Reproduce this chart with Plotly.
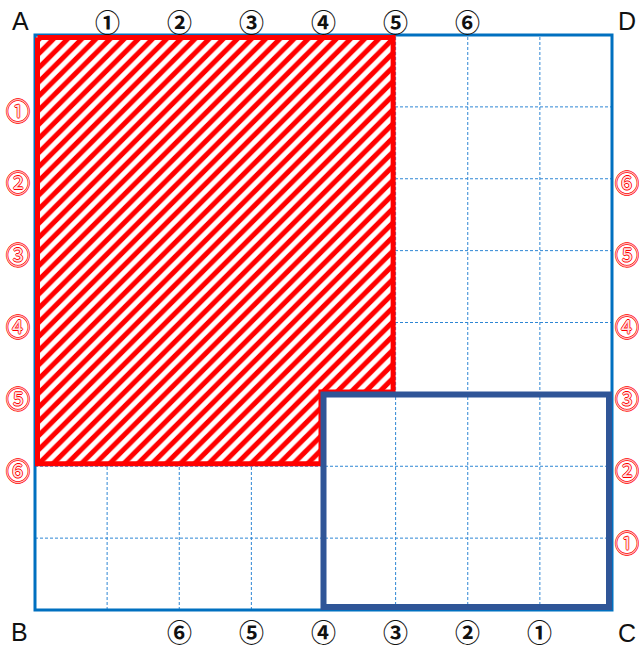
import plotly.graph_objects as go

# ---------------- data ----------------
grid_n = 8
grid_lines = [1, 2, 3, 4, 5, 6, 7]

top_labels = ["①", "②", "③", "④", "⑤", "⑥"]
top_label_x = [1, 2, 3, 4, 5, 6]
bottom_labels = ["⑥", "⑤", "④", "③", "②", "①"]
bottom_label_x = [2, 3, 4, 5, 6, 7]
left_labels = ["①", "②", "③", "④", "⑤", "⑥"]
left_label_y = [7, 6, 5, 4, 3, 2]
right_labels = ["⑥", "⑤", "④", "③", "②", "①"]
right_label_y = [6, 5, 4, 3, 2, 1]
corner_labels = ["A", "D", "B", "C"]
corner_x = [0, 8, 0, 8]
corner_y = [8, 8, 0, 0]

red_rect_x = [0, 5]
red_rect_y = [2, 8]
blue_rect_x = [4, 8]
blue_rect_y = [0, 3]

# ---------------- layout geometry ----------------
W, H = 639, 648
PL, PR, PT, PB = 35, 27, 35, 38   # frame position in pixels
PAD = 10
ux = (W - PL - PR) / grid_n
uy = (H - PT - PB) / grid_n

FRAME = "#0070C0"
GRID = "#2E86D4"
RED = "#FF0000"
NAVY = "#2F5597"

fig = go.Figure()

shapes = []
# dashed grid
for g in grid_lines:
    shapes.append(dict(type="line", x0=g, x1=g, y0=0, y1=grid_n, xref="x", yref="y",
                       line=dict(color=GRID, width=1, dash="3px,2px"), layer="below"))
    shapes.append(dict(type="line", x0=0, x1=grid_n, y0=g, y1=g, xref="x", yref="y",
                       line=dict(color=GRID, width=1, dash="3px,2px"), layer="below"))
# outer frame
shapes.append(dict(type="rect", x0=0, x1=grid_n, y0=0, y1=grid_n, xref="x", yref="y",
                   line=dict(color=FRAME, width=3), fillcolor="rgba(0,0,0,0)", layer="between"))

# red hatched L-shaped region (red rect minus overlap with blue rect), inset inside its border
dx, dy = 2.5 / ux, 2.5 / uy
rx0, rx1 = red_rect_x
ry0, ry1 = red_rect_y
bx0, bx1 = blue_rect_x
by0, by1 = blue_rect_y
poly_x = [rx0 + dx, rx1 - dx, rx1 - dx, bx0 - dx, bx0 - dx, rx0 + dx, rx0 + dx]
poly_y = [ry1 - dy, ry1 - dy, by1 + dy, by1 + dy, ry0 + dy, ry0 + dy, ry1 - dy]
fig.add_trace(go.Scatter(
    x=poly_x, y=poly_y, mode="lines", fill="toself",
    fillcolor="white",
    fillpattern=dict(shape="/", fgcolor=RED, bgcolor="white", fgopacity=1,
                     size=10, solidity=0.5),
    line=dict(color=RED, width=5), hoverinfo="skip", showlegend=False,
))

# navy rectangle (kept inside the frame)
ix, iy = 3 / ux, 3 / uy
shapes.append(dict(type="rect", x0=bx0, x1=bx1 - ix, y0=by0 + iy, y1=by1, xref="x", yref="y",
                   line=dict(color=NAVY, width=6), fillcolor="rgba(0,0,0,0)", layer="above"))

annotations = []
CJK = "Noto Sans CJK JP"
for t, x in zip(top_labels, top_label_x):
    annotations.append(dict(x=x, y=grid_n, xref="x", yref="y", text=t, showarrow=False,
                            yshift=14, font=dict(family=CJK, size=25, color="#111111", weight=700)))
for t, x in zip(bottom_labels, bottom_label_x):
    annotations.append(dict(x=x, y=0, xref="x", yref="y", text=t, showarrow=False,
                            yshift=-21, font=dict(family=CJK, size=25, color="#111111", weight=700)))
red_outline = ("0.8px 0 0 #FF0000, -0.8px 0 0 #FF0000, 0 0.8px 0 #FF0000, 0 -0.8px 0 #FF0000")
for t, y in zip(left_labels, left_label_y):
    annotations.append(dict(x=0, y=y, xref="x", yref="y", text=t, showarrow=False,
                            xshift=-17, yshift=-3,
                            font=dict(family=CJK, size=24, color="#FFE0E0", shadow=red_outline)))
for t, y in zip(right_labels, right_label_y):
    annotations.append(dict(x=grid_n, y=y, xref="x", yref="y", text=t, showarrow=False,
                            xshift=15, yshift=-3,
                            font=dict(family=CJK, size=24, color="#FFE0E0", shadow=red_outline)))
corner_shift = {"A": (-15, 14), "D": (15, 14), "B": (-16, -22), "C": (15, -23)}
for t, x, y in zip(corner_labels, corner_x, corner_y):
    sx, sy = corner_shift[t]
    annotations.append(dict(x=x, y=y, xref="x", yref="y", text=t, showarrow=False,
                            xshift=sx, yshift=sy,
                            font=dict(family="Liberation Sans", size=25, color="#111111")))

fig.update_layout(
    width=W, height=H,
    margin=dict(l=PL - PAD, r=PR - PAD, t=PT - PAD, b=PB - PAD, pad=0),
    paper_bgcolor="white", plot_bgcolor="white",
    xaxis=dict(range=[-PAD / ux, grid_n + PAD / ux], visible=False, fixedrange=True),
    yaxis=dict(range=[-PAD / uy, grid_n + PAD / uy], visible=False, fixedrange=True),
    shapes=shapes, annotations=annotations, showlegend=False,
)

fig.write_html("out.html", config={"displayModeBar": False},
               post_script="document.body.style.margin='0';document.body.style.overflow='hidden';")
